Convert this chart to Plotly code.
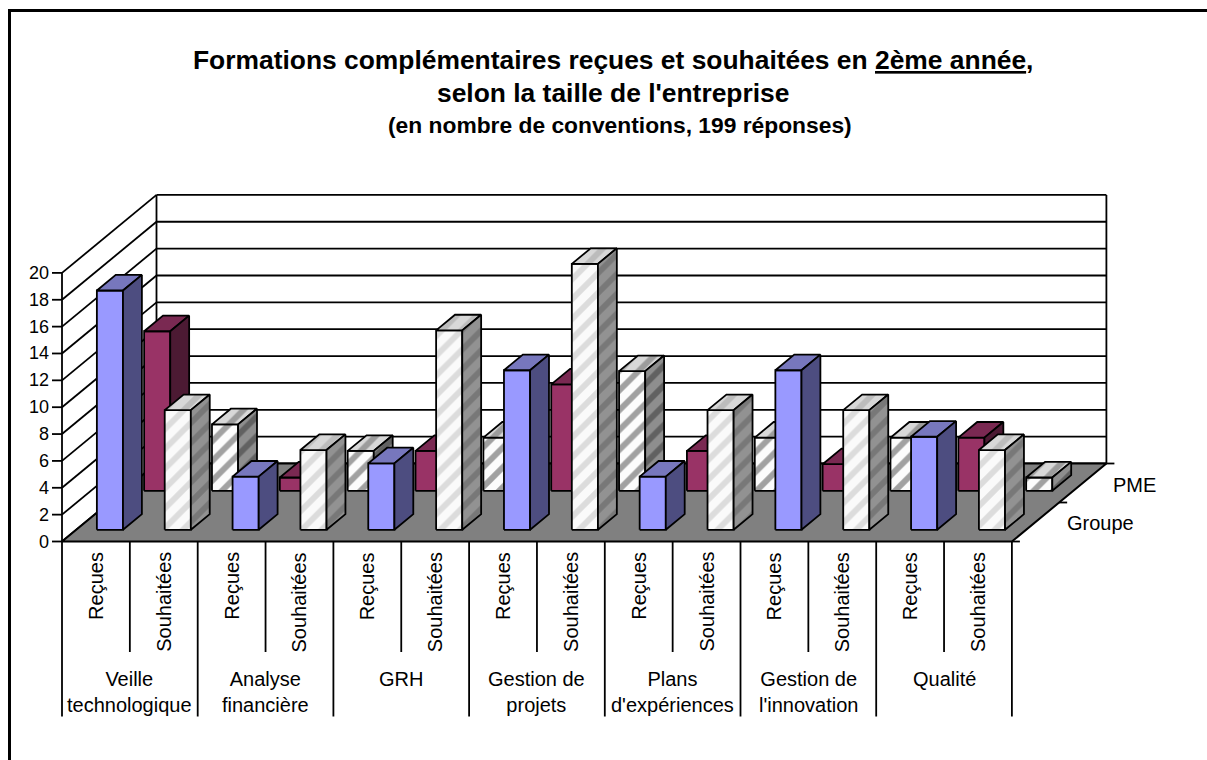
import plotly.graph_objects as go

# ---------- data ----------
GROUPS = ["Veille<br>technologique", "Analyse<br>financière", "GRH", "Gestion de<br>projets",
          "Plans<br>d'expériences", "Gestion de<br>l'innovation", "Qualité"]
SUBS = ["Reçues", "Souhaitées"]
GROUPE_VALUES = [18, 9, 4, 6, 5, 15, 12, 20, 4, 9, 12, 9, 7, 6]
PME_VALUES = [12, 5, 1, 3, 3, 4, 8, 9, 3, 4, 2, 4, 4, 1]
ROWS = ["Groupe", "PME"]
Y_TICKS = list(range(0, 21, 2))

# ---------- layout constants (pixels of the 1207x760 page) ----------
W, H = 1207, 760
X0, Y0 = 62.0, 541.5          # front-left floor corner
SLOT = 67.85                  # pixels per sub-category slot
UNIT = 13.43                  # pixels per value unit
DEPTH_X, DEPTH_Y = 94.5, 78.0 # oblique offset of the full depth
N = len(GROUPE_VALUES)
YMAX = 20
BAR_L, BAR_R = 0.305, 0.69    # bar extent within a slot
D0, D1 = 0.15, 0.35           # bar extent within a row, depth fraction of the full depth
BAR_SCALE = 0.99              # bars rise slightly less than the axis scale


def proj(u, v, d):
    """slot position u, value v, depth d (0-1) -> axis coordinates"""
    return u + d * DEPTH_X / SLOT, v + d * DEPTH_Y / UNIT


def dv(py):
    """page pixel offset below/above the floor front edge -> value units"""
    return (Y0 - py) / UNIT


def poly(points, fill=None, pattern=None, width=1.8):
    xs = [p[0] for p in points] + [points[0][0]]
    ys = [p[1] for p in points] + [points[0][1]]
    kw = {}
    if pattern:
        kw["fillpattern"] = pattern
    return go.Scatter(x=xs, y=ys, mode="lines", fill="toself", fillcolor=fill or "rgba(0,0,0,0)",
                      line=dict(color="black", width=width), hoverinfo="skip", showlegend=False, **kw)


def lines(segments, width=1.8):
    xs, ys = [], []
    for a, b in segments:
        xs += [a[0], b[0], None]
        ys += [a[1], b[1], None]
    return go.Scatter(x=xs, y=ys, mode="lines", line=dict(color="black", width=width),
                      hoverinfo="skip", showlegend=False)


def pat(bg, fg, size=14, solidity=0.42):
    return dict(shape="/", bgcolor=bg, fgcolor=fg, size=size, solidity=solidity)


STYLES = {
    ("Groupe", 0): dict(front="#9999FF", top="#7777BD", side="#4D4D80"),
    ("PME", 0): dict(front="#993366", top="#7A2952", side="#4C1A33"),
    ("Groupe", 1): dict(front=pat("#FAFAFA", "#BEBEBE"), top=pat("#D8D8D8", "#A0A0A0"), side=pat("#929292", "#5E5E5E")),
    ("PME", 1): dict(front=pat("#FCFCFC", "#464646"), top=pat("#D8D8D8", "#606060"), side=pat("#8E8E8E", "#333333")),
}


def face(pts, style):
    if isinstance(style, dict):
        return poly(pts, fill=style["bgcolor"], pattern=style)
    return poly(pts, fill=style)


def bar(i, value, row_index, name):
    st = STYLES[(name, i % 2)]
    h = value * BAR_SCALE
    l, r = i + BAR_L, i + BAR_R
    d0 = (row_index + D0 * 2) / 2
    d1 = (row_index + D1 * 2) / 2
    a0, b0 = proj(l, 0, d0), proj(r, 0, d0)
    a1, b1 = proj(l, h, d0), proj(r, h, d0)
    c1, e1 = proj(l, h, d1), proj(r, h, d1)
    c0 = proj(r, 0, d1)
    return [
        face([a0, b0, b1, a1], st["front"]),
        face([a1, b1, e1, c1], st["top"]),
        face([b0, c0, e1, b1], st["side"]),
    ]


fig = go.Figure()

# walls
grid = []
for v in Y_TICKS:
    grid.append((proj(0, v, 0), proj(0, v, 1)))
    grid.append((proj(0, v, 1), proj(N, v, 1)))
grid.append((proj(0, 0, 0), proj(0, YMAX, 0)))
grid.append((proj(0, 0, 1), proj(0, YMAX, 1)))
grid.append((proj(N, 0, 1), proj(N, YMAX, 1)))
fig.add_trace(lines(grid))

# floor
fig.add_trace(poly([proj(0, 0, 0), proj(N, 0, 0), proj(N, 0, 1), proj(0, 0, 1)], fill="#808080", width=2))

# bars, back row first
for i, val in enumerate(PME_VALUES):
    for t in bar(i, val, 1, "PME"):
        fig.add_trace(t)
for i, val in enumerate(GROUPE_VALUES):
    for t in bar(i, val, 0, "Groupe"):
        fig.add_trace(t)

# axis furniture
seg = []
TICK = 10 / SLOT
for v in Y_TICKS:
    seg.append(((-TICK, v), (0, v)))
for d in (0, 0.5, 1):
    seg.append((proj(N, 0, d), proj(N + 8 / SLOT, 0, d)))
for i in range(N + 1):
    bottom = 716.5 if i % 2 == 0 else 652.0
    seg.append(((i, 0), (i, dv(bottom))))
fig.add_trace(lines(seg))

FONT = "Liberation Sans, Arial, sans-serif"
ann = []
for v in Y_TICKS:
    ann.append(dict(x=-TICK - 1 / SLOT, y=v, xref="x", yref="y", text=str(v), showarrow=False,
                    xanchor="right", yanchor="middle", font=dict(family=FONT, size=18, color="black")))
for i in range(N):
    ann.append(dict(x=i + 0.5, y=dv(550), xref="x", yref="y", text=SUBS[i % 2], showarrow=False, textangle=-90,
                    xanchor="center", yanchor="top", font=dict(family=FONT, size=20, color="black")))
for g, name in enumerate(GROUPS):
    ann.append(dict(x=2 * g + 1, y=dv(666), xref="x", yref="y", text=name, showarrow=False,
                    xanchor="center", yanchor="top", font=dict(family=FONT, size=20, color="black")))
ann.append(dict(x=(1100.5 - X0) / SLOT, y=dv(523), xref="x", yref="y", text=ROWS[0], showarrow=False,
                xanchor="center", yanchor="middle", font=dict(family=FONT, size=20, color="black")))
ann.append(dict(x=(1134.5 - X0) / SLOT, y=dv(485), xref="x", yref="y", text=ROWS[1], showarrow=False,
                xanchor="center", yanchor="middle", font=dict(family=FONT, size=20, color="black")))

TITLE_X = 613 / W
ann += [
    dict(x=TITLE_X, y=1 - 60 / H, xref="paper", yref="paper", showarrow=False, xanchor="center", yanchor="middle",
         text="<b>Formations complémentaires reçues et souhaitées en <u>2ème année</u>,</b>",
         font=dict(family=FONT, size=26.4, color="black")),
    dict(x=TITLE_X, y=1 - 93 / H, xref="paper", yref="paper", showarrow=False, xanchor="center", yanchor="middle",
         text="<b>selon la taille de l'entreprise</b>", font=dict(family=FONT, size=26.4, color="black")),
    dict(x=619.5 / W, y=1 - 125 / H, xref="paper", yref="paper", showarrow=False, xanchor="center", yanchor="middle",
         text="<b>(en nombre de conventions, 199 réponses)</b>", font=dict(family=FONT, size=22.8, color="black")),
]

frame = dict(type="path", xref="paper", yref="paper",
             path=f"M {9.5 / W} 0 L {9.5 / W} {1 - 10.5 / H} L 1 {1 - 10.5 / H}",
             line=dict(color="black", width=3))

fig.update_layout(
    width=W, height=H, margin=dict(l=0, r=0, t=0, b=0), autosize=False,
    paper_bgcolor="white", plot_bgcolor="white", showlegend=False,
    xaxis=dict(visible=False, range=[-X0 / SLOT, (W - X0) / SLOT], fixedrange=True),
    yaxis=dict(visible=False, range=[(Y0 - H) / UNIT, Y0 / UNIT], fixedrange=True),
    annotations=ann, shapes=[frame],
)

fig.write_html("out.html", config={"displayModeBar": False},
               post_script="document.body.style.margin='0';document.body.style.overflow='hidden';")
